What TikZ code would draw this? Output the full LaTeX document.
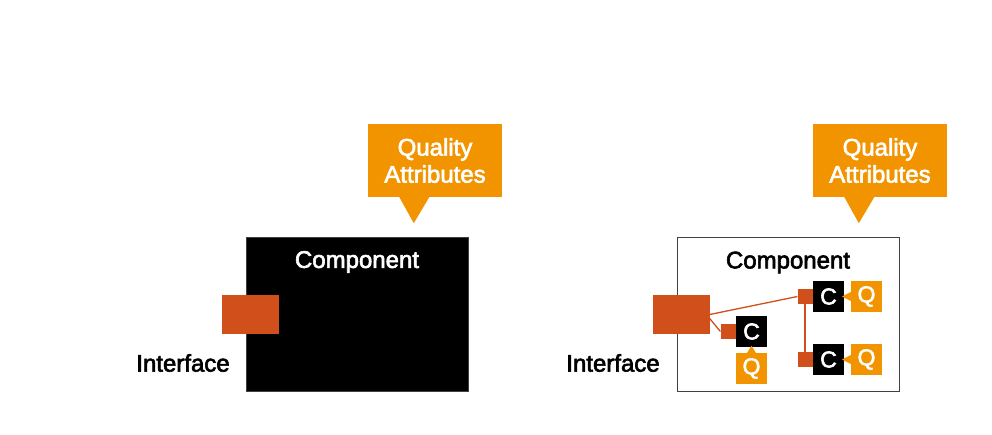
\documentclass[tikz,border=0pt]{standalone}
\usepackage{fontspec}
\setmainfont{Liberation Sans}
\newfontfamily\medfont{Liberation Sans}[FakeBold=2.5]
\usepackage{xcolor}
\usepackage{tikz}
\usetikzlibrary{calc}
\definecolor{qorange}{RGB}{242,148,0}
\definecolor{iforange}{RGB}{209,79,26}

\begin{document}
\begin{tikzpicture}[x=1pt,y=-1pt,
  compbox/.style={draw=black!75, line width=0.8pt, minimum width=222pt, minimum height=154pt, inner sep=0pt},
  iface/.style={fill=iforange, minimum width=57pt, minimum height=39pt, inner sep=0pt},
  callout/.style={fill=qorange, text=white, minimum width=134pt, minimum height=73pt, align=center, inner sep=0pt, font=\medfont\fontsize{24}{27}\selectfont},
  txt/.style={font=\medfont\fontsize{24}{27}\selectfont},
  cbox/.style={fill=black, text=white, minimum size=31pt, inner sep=0pt, font=\medfont\fontsize{23}{23}\selectfont},
  qbox/.style={fill=qorange, text=white, minimum size=31pt, inner sep=0pt, font=\medfont\fontsize{23}{23}\selectfont},
  port/.style={fill=iforange, minimum size=15pt, inner sep=0pt},
  wire/.style={draw=iforange, line width=1.3pt}]
\useasboundingbox (0,0) rectangle (992,434);

% left: component as a black box
\node [compbox, fill=black] (compL) at (357,314){};
\node [txt, text=white, anchor=north] (compLtxt) at ($(compL.north)+(0,11)$) {Component};
\node [iface] (ifL) at (250.5,314.5){};
\node [txt] (ifLtxt) at (183,363) {Interface};
\node [callout] (qL) at (435,160.5) {Quality\\Attributes};
\coordinate (qLtip) at ($(qL.south west)+(46,26)$);
\fill[qorange] ($(qL.south west)+(31,-1)$) -- (qLtip) -- ($(qL.south west)+(62,-1)$) -- cycle;

% right: component with inner parts
\node [compbox, fill=white] (compR) at (788,314.5){};
\node [txt, anchor=north] (compRtxt) at ($(compR.north)+(0,11)$) {Component};
\node [iface] (ifR) at (681,314.5){};
\node [txt] (ifRtxt) at (613,363) {Interface};
\node [callout] (qR) at (880,160.5) {Quality\\Attributes};
\coordinate (qRtip) at ($(qR.south west)+(46,26)$);
\fill[qorange] ($(qR.south west)+(31,-1)$) -- (qRtip) -- ($(qR.south west)+(62,-1)$) -- cycle;

\node [cbox] (c1) at (751.5,331.5) {C};
\node [cbox] (c2) at (828.5,296.5) {C};
\node [cbox] (c3) at (828.5,359.5) {C};
\node [port, anchor=east] (p1) at (c1.west) {};
\node [port, anchor=east] (p2) at (c2.west) {};
\node [port, anchor=east] (p3) at (c3.west) {};
\node [qbox] (q1) at (751.5,368.5) {Q};
\node [qbox] (q2) at (866.5,296.5) {Q};
\node [qbox] (q3) at (866.5,359.5) {Q};

\fill[qorange] ($(q1.north)+(-5,1)$) -- ($(q1.north)+(0,-7)$) -- ($(q1.north)+(5,1)$) -- cycle;
\fill[qorange] ($(q2.west)+(1,-5)$) -- ($(q2.west)+(-9,0)$) -- ($(q2.west)+(1,5)$) -- cycle;
\fill[qorange] ($(q3.west)+(1,-5)$) -- ($(q3.west)+(-9,0)$) -- ($(q3.west)+(1,5)$) -- cycle;

\draw[wire] (ifR.east) -- (p2.west);
\draw[wire] (ifR.-8) -- (p1.west);
\draw[wire] (p2.south) -- (p3.north);
\end{tikzpicture}
\end{document}
